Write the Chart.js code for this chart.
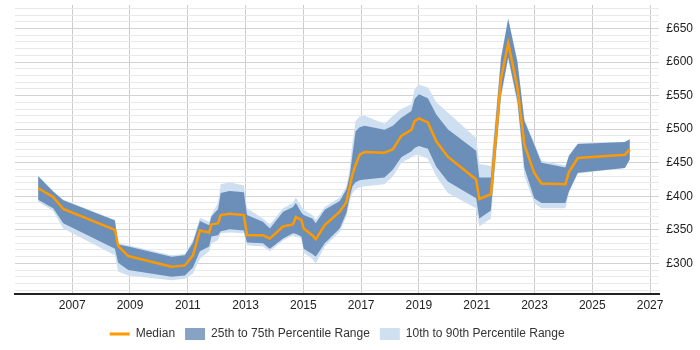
<!DOCTYPE html>
<html>
<head>
<meta charset="utf-8">
<script src="https://cdn.jsdelivr.net/npm/chart.js@4/dist/chart.umd.min.js"></script>
<style>
html, body { margin: 0; padding: 0; background: #fff; }
</style>
</head>
<body>
<canvas id="rateChart" width="700" height="350"></canvas>
<script>
// dates (decimal years) and percentile values
const dates = [2005.82, 2006.34, 2006.69, 2008.48, 2008.59, 2008.94, 2010.44, 2010.90, 2011.18, 2011.42,
    2011.74, 2011.82, 2012.05, 2012.14, 2012.45, 2012.94, 2013.05, 2013.60, 2013.84, 2014.30,
    2014.64, 2014.74, 2014.93, 2015.01, 2015.31, 2015.43, 2015.74, 2016.26, 2016.49, 2016.60,
    2016.70, 2016.81, 2016.95, 2017.12, 2017.81, 2018.10, 2018.39, 2018.74, 2018.85, 2019.00,
    2019.31, 2019.60, 2020.00, 2020.98, 2021.09, 2021.49, 2021.84, 2022.09, 2022.41, 2022.65,
    2022.99, 2023.24, 2024.07, 2024.19, 2024.50, 2026.13, 2026.30];
const p10 = [392, 378, 352, 312, 288, 282, 275, 277, 285, 307,
    318, 330, 335, 345, 346, 345, 327, 325, 318, 334,
    342, 340, 338, 316, 307, 300, 325, 347, 370, 392,
    405, 411, 413, 415, 418, 430, 450, 458, 461, 462,
    456, 430, 405, 382, 355, 367, 545, 605, 535, 430,
    390, 382, 382, 405, 434, 442, 455];
const p25 = [395, 382, 360, 322, 301, 290, 280, 282, 294, 318,
    325, 340, 342, 348, 351, 349, 331, 330, 322, 337,
    345, 344, 340, 322, 314, 310, 330, 352, 375, 398,
    415, 421, 424, 425, 428, 440, 458, 467, 472, 475,
    471, 444, 422, 397, 367, 379, 550, 607, 542, 442,
    397, 390, 390, 407, 435, 442, 455];
const median = [412, 399, 381, 350, 326, 311, 295, 297, 312, 349,
    346, 358, 360, 372, 374, 372, 342, 342, 337, 355,
    358, 369, 365, 352, 342, 336, 357, 377, 391, 414,
    433, 447, 462, 466, 465, 470, 490, 499, 512, 516,
    510, 482, 459, 425, 396, 403, 575, 628, 562, 477,
    435, 419, 418, 436, 457, 462, 470];
const p75 = [430, 407, 394, 364, 328, 325, 310, 312, 331, 363,
    357, 370, 381, 405, 408, 406, 372, 362, 352, 377,
    384, 390, 376, 372, 367, 360, 380, 393, 410, 430,
    462, 497, 503, 505, 499, 505, 517, 527, 545, 552,
    546, 522, 500, 468, 428, 428, 605, 664, 600, 512,
    477, 450, 443, 460, 478, 481, 485];
const p90 = [431, 408, 395, 365, 330, 327, 312, 314, 335, 368,
    362, 373, 390, 418, 421, 416, 382, 367, 358, 382,
    390, 398, 385, 380, 372, 365, 384, 398, 415, 440,
    480, 512, 519, 520, 508, 520, 530, 537, 560, 566,
    562, 540, 525, 487, 448, 445, 608, 666, 602, 515,
    480, 453, 446, 461, 479, 481, 485];
const yearTicks = [2007, 2009, 2011, 2013, 2015, 2017, 2019, 2021, 2023, 2025, 2027];

const pts = arr => dates.map((d, i) => ({ x: d, y: arr[i] }));

const legendFill = {
    '25th to 75th Percentile Range': '#87a3c3',
    '10th to 90th Percentile Range': '#cfe0f0'
};

Chart.defaults.font.family = '"Liberation Sans", Arial, sans-serif';
Chart.defaults.font.size = 12;
Chart.defaults.color = '#333';

const canvas = document.getElementById('rateChart');
new Chart(canvas, {
    type: 'line',
    data: {
        datasets: [
            {
                label: 'Median',
                data: pts(median),
                borderColor: '#ff9900',
                backgroundColor: '#ff9900',
                borderWidth: 2.5,
                pointRadius: 0,
                fill: false,
                order: 0
            },
            {
                label: '25th to 75th Percentile Range',
                data: pts(p75),
                borderWidth: 0,
                borderColor: 'transparent',
                backgroundColor: '#6b8fb8',
                pointRadius: 0,
                fill: 3,
                order: 1
            },
            {
                label: '10th to 90th Percentile Range',
                data: pts(p90),
                borderWidth: 0,
                borderColor: 'transparent',
                backgroundColor: '#cddff0',
                pointRadius: 0,
                fill: 4,
                order: 2
            },
            {
                label: '',
                data: pts(p25),
                borderWidth: 0,
                borderColor: 'transparent',
                pointRadius: 0,
                fill: false,
                order: 3
            },
            {
                label: '',
                data: pts(p10),
                borderWidth: 0,
                borderColor: 'transparent',
                pointRadius: 0,
                fill: false,
                order: 4
            }
        ]
    },
    options: {
        responsive: false,
        animation: false,
        layout: { padding: { left: 15, right: 0, top: 5, bottom: 0 } },
        plugins: {
            tooltip: { enabled: false },
            legend: {
                position: 'bottom',
                fullSize: false,
                labels: {
                    usePointStyle: true,
                    pointStyleWidth: 20,
                    boxHeight: 12,
                    padding: 10,
                    color: '#333',
                    filter: item => item.text !== '',
                    generateLabels: chart => {
                        const items = Chart.defaults.plugins.legend.labels.generateLabels(chart);
                        items.forEach(it => {
                            if (it.text === 'Median') {
                                it.pointStyle = 'line';
                                it.lineWidth = 3;
                                it.strokeStyle = '#ff9900';
                            } else {
                                it.pointStyle = 'rect';
                                it.lineWidth = 0;
                                it.fillStyle = legendFill[it.text] || it.fillStyle;
                            }
                        });
                        return items;
                    }
                }
            }
        },
        scales: {
            x: {
                type: 'linear',
                min: 2005.02,
                max: 2027.32,
                afterBuildTicks: axis => { axis.ticks = yearTicks.map(v => ({ value: v })); },
                ticks: {
                    autoSkip: false,
                    maxRotation: 0,
                    padding: 5,
                    color: '#222',
                    callback: v => String(v)
                },
                grid: { color: '#cccccc', drawTicks: false },
                border: { color: '#222', width: 2 }
            },
            y: {
                position: 'right',
                min: 255,
                max: 685,
                afterBuildTicks: axis => {
                    const t = [];
                    for (let v = 260; v <= 680; v += 10) t.push({ value: v });
                    axis.ticks = t;
                },
                afterFit: axis => { axis.paddingTop = 0; axis.paddingBottom = 0; },
                ticks: {
                    autoSkip: false,
                    padding: 7,
                    color: '#222',
                    callback: v => (v % 50 === 0 ? '£' + v : '')
                },
                grid: {
                    drawTicks: false,
                    color: ctx => (ctx.tick && ctx.tick.value % 50 === 0 ? '#d2d2d2' : '#e9e9e9')
                },
                border: { display: false }
            }
        }
    }
});
</script>
</body>
</html>
